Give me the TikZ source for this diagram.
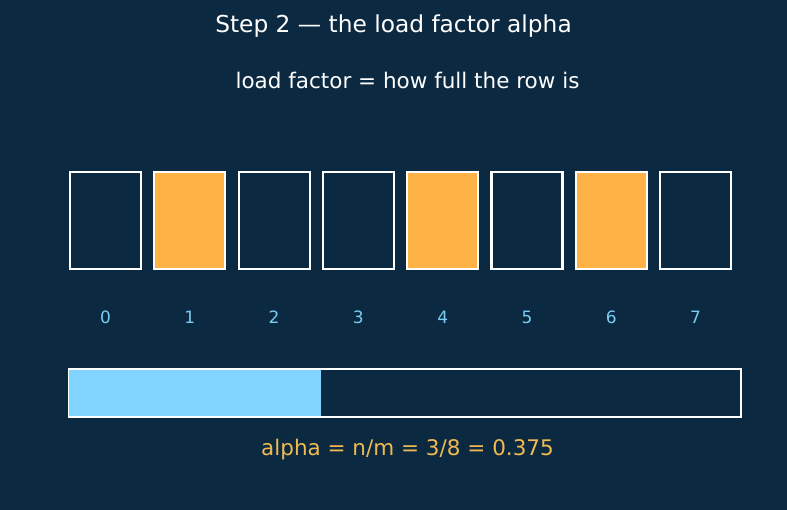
\documentclass[tikz,border=0pt]{standalone}
\usepackage{fontspec}
\setmainfont{DejaVu Sans}
\usetikzlibrary{calc,positioning}
\definecolor{bgnavy}{RGB}{12,41,66}
\definecolor{slotfull}{RGB}{255,179,71}
\definecolor{barblue}{RGB}{128,212,255}
\definecolor{idxblue}{RGB}{122,204,242}
\definecolor{formgold}{RGB}{240,186,80}

\begin{document}
\begin{tikzpicture}[
  x=1pt, y=1pt,
  cell/.style={draw=white, line width=2.2pt, minimum width=71pt, minimum height=97pt,
    inner sep=0pt, fill=bgnavy},
  full/.style={cell, fill=slotfull},
  idx/.style={text=idxblue, font=\fontsize{17}{20}\selectfont},
  title/.style={text=white, font=\fontsize{23.3}{28}\selectfont},
  note/.style={text=white, font=\fontsize{21.5}{25}\selectfont},
  barline/.style={draw=white, line width=1.6pt},
  node distance=11.1pt
]
  \useasboundingbox[fill=bgnavy] (0,0) rectangle (787,-510);

  \node[title] (head) at (393.5,-26) {Step 2 — the load factor alpha};
  \node[note] (sub) at (407.5,-80) {load factor = how full the row is};

  % the row of slots
  \node[cell] (c0) at (105.5,-220.5) {};
  \node[full, right=of c0] (c1) {};
  \node[cell, right=of c1] (c2) {};
  \node[cell, right=of c2] (c3) {};
  \node[full, right=of c3] (c4) {};
  \node[cell, right=of c4] (c5) {};
  \node[full, right=of c5] (c6) {};
  \node[cell, right=of c6] (c7) {};

  \node[idx] (i0) at ([yshift=-96.5pt]c0) {0};
  \node[idx] (i1) at ([yshift=-96.5pt]c1) {1};
  \node[idx] (i2) at ([yshift=-96.5pt]c2) {2};
  \node[idx] (i3) at ([yshift=-96.5pt]c3) {3};
  \node[idx] (i4) at ([yshift=-96.5pt]c4) {4};
  \node[idx] (i5) at ([yshift=-96.5pt]c5) {5};
  \node[idx] (i6) at ([yshift=-96.5pt]c6) {6};
  \node[idx] (i7) at ([yshift=-96.5pt]c7) {7};

  % fill gauge
  \coordinate (barNW) at (68.5,-369);
  \coordinate (barSE) at (741,-417);
  \fill[barblue] (barNW) rectangle ($(barNW |- barSE)!0.375!(barSE)$);
  \draw[barline] (barNW) rectangle (barSE);

  \node[note, text=formgold] (alpha) at (407.5,-449.5) {alpha = n/m = 3/8 = 0.375};
\end{tikzpicture}
\end{document}
